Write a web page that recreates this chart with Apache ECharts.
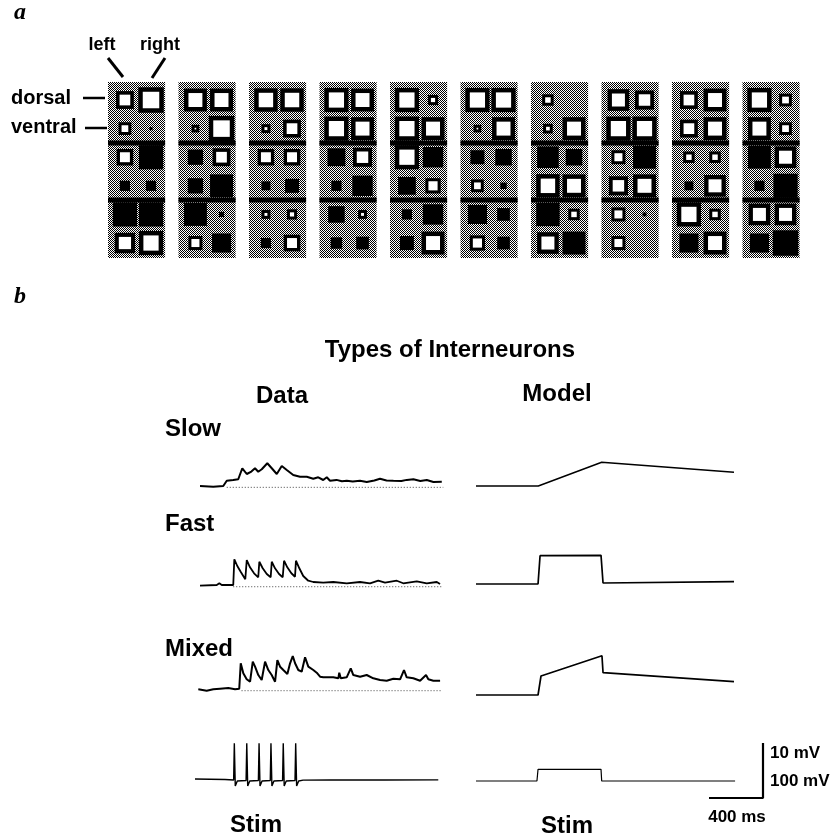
<!DOCTYPE html>
<html><head><meta charset="utf-8">
<script src="https://cdn.jsdelivr.net/npm/echarts@6/dist/echarts.min.js"></script>
<style>html,body{margin:0;padding:0;background:#fff}#chart{width:833px;height:836px}</style>
</head><body><div id="chart"></div>
<script>
// ---------- Panel a: weights per unit (rows: 6, each [left, right]) ----------
const unit1  = [[0.7,1.0],[0.5,-0.12],[0.65,-0.95],[-0.4,-0.4],[-0.95,-0.95],[0.8,0.95]];
const unit2  = [[0.9,0.9],[0.3,1.0],[-0.6,0.7],[-0.6,-0.9],[-0.9,-0.2],[0.55,-0.75]];
const unit3  = [[0.92,0.92],[0.35,0.7],[0.65,0.65],[-0.35,-0.55],[0.35,0.4],[-0.4,0.65]];
const unit4  = [[0.95,0.9],[0.95,0.9],[-0.7,0.75],[-0.4,-0.8],[-0.65,0.35],[-0.45,-0.5]];
const unit5  = [[0.95,0.4],[0.95,0.9],[0.95,-0.8],[-0.7,0.6],[-0.4,-0.8],[-0.55,0.9]];
const unit6  = [[0.95,0.95],[0.3,0.9],[-0.55,-0.65],[0.5,-0.25],[-0.75,-0.5],[0.6,-0.5]];
const unit7  = [[0.45,0.0],[0.38,0.9],[-0.85,-0.65],[0.92,0.9],[-0.92,0.45],[0.85,-0.9]];
const unit8  = [[0.85,0.75],[0.95,0.95],[0.55,-0.9],[0.75,0.9],[0.55,-0.15],[0.55,0.0]];
const unit9  = [[0.7,0.9],[0.7,0.9],[0.45,0.45],[-0.35,0.85],[0.95,0.45],[-0.75,0.9]];
const unit10 = [[0.95,0.5],[0.9,0.5],[-0.9,0.85],[-0.4,-0.95],[0.85,0.85],[-0.75,-1.0]];
const units = [unit1,unit2,unit3,unit4,unit5,unit6,unit7,unit8,unit9,unit10];

// ---------- Panel b: traces [time ms, mV] ----------
const dataSlow = [[0,0],[98,-0.13],[172,0],[198,0.95],[246,1.08],[283,1.21],[313,3.19],[346,2.16],[380,2.6],[407,3.19],[431,2.57],[457,3.01],[498,4.09],[531,3.19],[568,2.16],[605,3.6],[642,2.88],[690,1.98],[740,1.67],[790,1.67],[838,1.31],[875,1.57],[912,1.08],[938,1.57],[962,0.95],[1010,1.1],[1050,0.85],[1086,0.95],[1130,0.8],[1184,0.95],[1234,0.72],[1290,1.0],[1332,1.31],[1380,1.0],[1431,0.95],[1490,0.9],[1530,1.1],[1579,1.21],[1630,0.9],[1678,1.08],[1727,0.72],[1789,0.77]];
const dataSlowBase = [[198,-0.24],[1800,-0.24]];
const dataFast = [[0,-0.13],[124,0],[143,0.31],[161,0],[246,0],[254,4.63],[276,3.42],[301,2.39],[335,1.03],[346,4.5],[370,3.19],[400,2.11],[431,1.39],[439,4.19],[464,3.01],[494,1.98],[523,1.39],[531,4.19],[555,3.01],[585,1.98],[612,1.39],[622,4.37],[646,3.19],[676,2.11],[703,1.49],[710,4.37],[735,3.01],[764,1.62],[801,0.77],[838,0.54],[912,0.41],[986,0.54],[1086,0.31],[1184,0.54],[1258,0.31],[1319,0.77],[1369,0.41],[1456,0.77],[1504,0.31],[1604,0.67],[1678,0.31],[1752,0.54],[1776,0.18]];
const dataFastBase = [[246,-0.31],[1790,-0.31]];
const dataMixed = [[0,0],[62,-0.25],[111,0],[161,0.11],[222,0.23],[272,0],[303,0.11],[314,4.68],[333,2.88],[358,1.8],[383,1.37],[403,4.97],[420,4.07],[444,2.57],[469,1.67],[494,4.97],[518,3.47],[543,2.57],[568,1.37],[585,5.27],[605,4.07],[629,3.47],[659,2.75],[679,4.68],[699,5.99],[716,4.68],[740,3.47],[765,3.17],[790,5.76],[814,4.07],[851,3.47],[876,2.99],[901,2.27],[925,2.16],[999,2.16],[1036,1.98],[1043,2.99],[1054,1.98],[1098,2.16],[1128,3.78],[1147,2.57],[1197,2.27],[1246,2.57],[1295,1.98],[1345,1.67],[1394,1.55],[1443,1.91],[1493,1.8],[1522,3.47],[1542,2.16],[1591,1.98],[1641,1.55],[1685,2.57],[1702,1.8],[1739,1.55],[1789,1.55]];
const dataMixedBase = [[320,-0.25],[1800,-0.25]];
const dataStim = [[0,0],[222,-0.09],[286,-0.18],[291,6.43],[298,-1.26],[313,-0.36],[378,-0.27],[383,6.43],[390,-1.26],[405,-0.36],[469,-0.27],[474,6.43],[481,-1.26],[496,-0.36],[557,-0.27],[562,6.43],[569,-1.26],[584,-0.36],[648,-0.27],[653,6.43],[660,-1.26],[675,-0.36],[740,-0.27],[745,6.43],[752,-1.26],[767,-0.36],[800,-0.2],[1000,-0.18],[1400,-0.18],[1800,-0.15]];
const modelSlow  = [[0,0],[461,0],[930,4.27],[1909,2.47]];
const modelFast  = [[0,0],[459,0],[474,5.09],[925,5.17],[940,0.18],[1909,0.41]];
const modelMixed = [[0,0],[459,0],[481,3.42],[932,7.07],[940,4.01],[1909,2.39]];
const modelStim  = [[0,0],[451,0],[459,2.11],[925,2.11],[930,0],[1917,0]];
const scaleBar   = [[0,0],[400,0],[400,10]];

// ---------- helpers ----------
const pc = document.createElement('canvas');
pc.width = 2; pc.height = 2;
const pctx = pc.getContext('2d');
pctx.fillStyle = '#fff'; pctx.fillRect(0,0,2,2);
pctx.fillStyle = '#000'; pctx.fillRect(0,0,1,1); pctx.fillRect(1,1,1,1);
const halftone = {image: pc, repeat: 'repeat'};

const cellData = [];
units.forEach((u, ci) => u.forEach((row, ri) => row.forEach((v, si) => {
  cellData.push([ci + (si === 0 ? 0.24 : 0.61), ri, v]);
})));
const colData = units.map((u, ci) => [ci]);

function renderCol(params, api) {
  const c = api.value(0);
  const p0 = api.coord([c, -0.63]);
  const p1 = api.coord([c + 0.81, 5.52]);
  const s1 = api.coord([c, 1.5]);
  const s2 = api.coord([c, 3.5]);
  const w = p1[0] - p0[0];
  return {type: 'group', children: [
    {type: 'rect', shape: {x: p0[0], y: p0[1], width: w, height: p1[1] - p0[1]}, style: {fill: halftone}},
    {type: 'rect', shape: {x: p0[0], y: s1[1] - 2.5, width: w, height: 5}, style: {fill: '#000'}},
    {type: 'rect', shape: {x: p0[0], y: s2[1] - 2.5, width: w, height: 5}, style: {fill: '#000'}}
  ]};
}
function renderCell(params, api) {
  const c = api.coord([api.value(0), api.value(1)]);
  const v = api.value(2);
  const s = Math.abs(v) * 25.5;
  if (s < 1) return null;
  const x = c[0] - s / 2, y = c[1] - s / 2;
  if (v < 0) return {type: 'rect', shape: {x, y, width: s, height: s}, style: {fill: '#000'}};
  const b = Math.max(3, Math.min(4.5, s * 0.2));
  return {type: 'group', children: [
    {type: 'rect', shape: {x, y, width: s, height: s}, style: {fill: '#000'}},
    {type: 'rect', shape: {x: x + b, y: y + b, width: Math.max(1, s - 2 * b), height: Math.max(1, s - 2 * b)}, style: {fill: '#fff'}}
  ]};
}

// trace grid layout (px): left, baseline y
const traceLayout = [
  {d: dataSlow,  left: 200,   base: 486,   w: 2},
  {d: dataFast,  left: 200,   base: 585,   w: 1.8},
  {d: dataMixed, left: 198.3, base: 689.3, w: 2},
  {d: dataStim,  left: 195,   base: 779,   w: 1.4},
  {d: modelSlow, left: 476,   base: 486,   w: 1.5},
  {d: modelFast, left: 476,   base: 584,   w: 1.7},
  {d: modelMixed,left: 476,   base: 695,   w: 1.7},
  {d: modelStim, left: 476,   base: 781,   w: 1.2}
];
const baseLines = [[0, dataSlowBase], [1, dataFastBase], [2, dataMixedBase]];

const grids = [{left: 108, top: 82, width: 705, height: 175.9}];
const xAxes = [{type: 'value', gridIndex: 0, min: 0, max: 10, show: false}];
const yAxes = [{type: 'value', gridIndex: 0, min: -0.63, max: 5.52, inverse: true, show: false}];
const series = [
  {type: 'custom', xAxisIndex: 0, yAxisIndex: 0, data: colData, renderItem: renderCol, silent: true, clip: false},
  {type: 'custom', xAxisIndex: 0, yAxisIndex: 0, data: cellData, renderItem: renderCell, silent: true, clip: false}
];
traceLayout.forEach((t, i) => {
  const gi = i + 1;
  grids.push({left: t.left, top: t.base - 48.89, width: 270.3, height: 60});
  xAxes.push({type: 'value', gridIndex: gi, min: 0, max: 2000, show: false});
  yAxes.push({type: 'value', gridIndex: gi, min: -2, max: 8.8, show: false});
  series.push({type: 'line', xAxisIndex: gi, yAxisIndex: gi, data: t.d, showSymbol: false, clip: false,
    lineStyle: {color: '#000', width: t.w}, silent: true});
});
baseLines.forEach(([ti, d]) => {
  const gi = ti + 1;
  series.push({type: 'line', xAxisIndex: gi, yAxisIndex: gi, data: d, showSymbol: false, clip: false,
    lineStyle: {color: '#444', width: 1, type: [1, 2]}, silent: true});
});
// scale bar
grids.push({left: 709, top: 743, width: 54, height: 55});
xAxes.push({type: 'value', gridIndex: 9, min: 0, max: 400, show: false});
yAxes.push({type: 'value', gridIndex: 9, min: 0, max: 10, show: false});
series.push({type: 'line', xAxisIndex: 9, yAxisIndex: 9, data: scaleBar, showSymbol: false, clip: false,
  lineStyle: {color: '#000', width: 2.2}, silent: true});

const SANS = '"Liberation Sans", Arial, Helvetica, sans-serif';
function txt(text, x, y, size, opts) {
  opts = opts || {};
  return {type: 'text', x, y, silent: true, style: {
    text, fill: '#000', fontSize: size, fontWeight: opts.weight || 'bold',
    fontFamily: opts.family || SANS, fontStyle: opts.style || 'normal',
    textAlign: opts.align || 'left', align: opts.align || 'left',
    textVerticalAlign: 'middle', verticalAlign: 'middle'
  }};
}
function seg(x1, y1, x2, y2, w) {
  return {type: 'line', silent: true, shape: {x1, y1, x2, y2}, style: {stroke: '#000', lineWidth: w}};
}
const SERIF = '"Liberation Serif", "Times New Roman", serif';
const graphics = [
  txt('a', 14, 13, 24, {family: SERIF, style: 'italic'}),
  txt('left', 102, 45, 18, {align: 'center'}),
  txt('right', 160, 45, 18, {align: 'center'}),
  seg(108, 58, 123, 77, 3),
  seg(165, 58, 152, 78, 3),
  txt('dorsal', 11, 98, 20),
  txt('ventral', 11, 127, 20),
  seg(83, 98, 105, 98, 2.5),
  seg(85, 128, 107, 128, 2.5),
  txt('b', 14, 297, 24, {family: SERIF, style: 'italic'}),
  txt('Types of Interneurons', 450, 350, 24, {align: 'center'}),
  txt('Data', 282, 396, 24, {align: 'center'}),
  txt('Model', 557, 394, 24, {align: 'center'}),
  txt('Slow', 165, 429, 24),
  txt('Fast', 165, 524, 24),
  txt('Mixed', 165, 649, 24),
  txt('Stim', 256, 825, 24, {align: 'center'}),
  txt('Stim', 567, 826, 24, {align: 'center'}),
  txt('10 mV', 770, 753, 17),
  txt('100 mV', 770, 781, 17),
  txt('400 ms', 737, 817, 17, {align: 'center'})
];

const chart = echarts.init(document.getElementById('chart'), null, {renderer: 'canvas'});
chart.setOption({
  animation: false,
  backgroundColor: '#fff',
  grid: grids, xAxis: xAxes, yAxis: yAxes, series: series,
  graphic: {elements: graphics}
});
</script></body></html>
